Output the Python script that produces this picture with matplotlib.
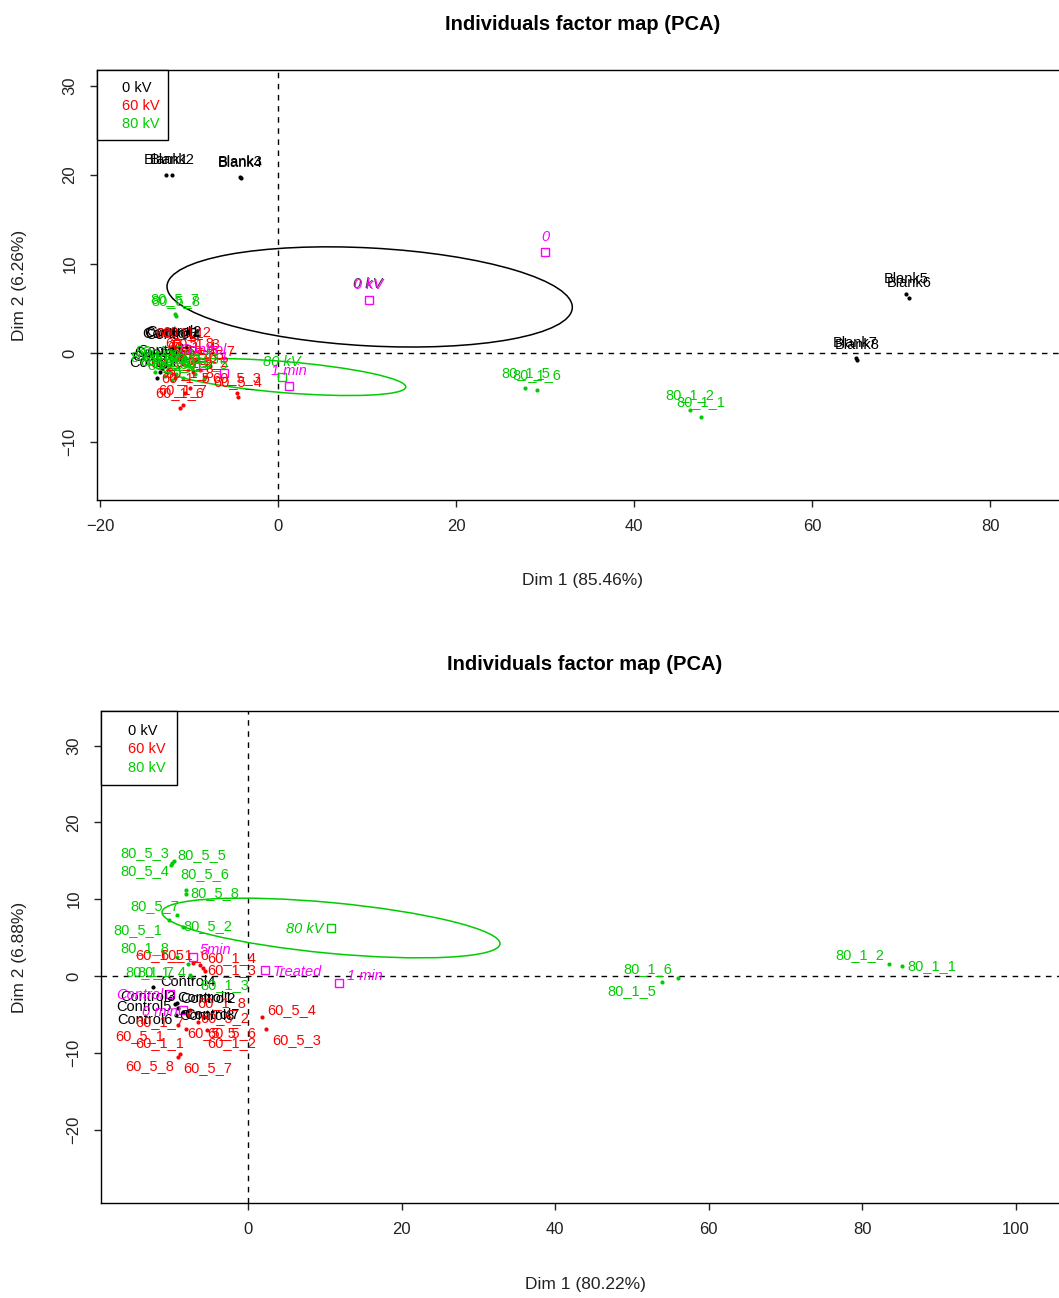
import matplotlib
matplotlib.use("Agg")
import matplotlib.pyplot as plt
from matplotlib.patches import Ellipse, Rectangle

plt.rcParams['font.family'] = ['Liberation Sans', 'DejaVu Sans']

BLACK = '#000000'
RED = '#FF0000'
GREEN = '#00CD00'
MAGENTA = '#FF00FF'

# ---------------- PCA 1 (Dim 1 85.46 %, Dim 2 6.26 %) ----------------
top_kv0_names = ['Blank1', 'Blank2', 'Blank3', 'Blank4', 'Blank5', 'Blank6', 'Blank7', 'Blank8',
                 'Control1', 'Control2', 'Control3', 'Control4', 'Control5', 'Control6', 'Control7', 'Control8']
top_kv0_dim1 = [-12.6, -11.9, -4.3, -4.2, 70.6, 70.9, 64.9, 65.1,
                -11.9, -11.7, -12.1, -11.8, -13.6, -13.3, -13.0, -12.7]
top_kv0_dim2 = [20.0, 20.0, 19.8, 19.7, 6.6, 6.2, -0.6, -0.8,
                0.6, 0.7, 0.5, 0.3, -2.8, -2.1, -1.7, -1.5]

top_kv60_names = ['60_1_1', '60_1_2', '60_1_3', '60_1_4', '60_1_5', '60_1_6', '60_1_7', '60_1_8',
                  '60_5_1', '60_5_2', '60_5_3', '60_5_4', '60_5_5', '60_5_6', '60_5_7', '60_5_8']
top_kv60_dim1 = [-11.0, -10.3, -9.2, -9.7, -10.4, -11.0, -10.7, -9.9,
                 -11.6, -8.2, -4.6, -4.5, -8.8, -9.6, -7.6, -9.9]
top_kv60_dim2 = [0.6, 0.7, -0.7, -1.0, -4.5, -6.2, -5.8, -3.9,
                 -2.8, -2.7, -4.5, -4.9, -1.9, -2.1, -1.5, -0.6]

top_kv80_names = ['80_1_1', '80_1_2', '80_1_3', '80_1_4', '80_1_5', '80_1_6', '80_1_7', '80_1_8',
                  '80_5_1', '80_5_2', '80_5_3', '80_5_4', '80_5_5', '80_5_6', '80_5_7', '80_5_8']
top_kv80_dim1 = [47.5, 46.3, -9.3, -10.1, 27.8, 29.1, -13.3, -12.4,
                 -13.8, -11.5, -10.7, -11.9, -8.3, -12.7, -11.6, -11.5]
top_kv80_dim2 = [-7.2, -6.4, -2.4, -1.9, -3.9, -4.2, -1.5, -1.8,
                 -2.1, -2.4, -2.8, -3.0, -2.9, -2.6, 4.4, 4.2]

# supplementary category centres
top_sup_names = ['0', '0 kV', '1 min', '1', 'Control']
top_sup_dim1 = [30.0, 10.2, 1.2, -6.1, -8.4]
top_sup_dim2 = [11.3, 6.0, -3.7, -2.2, -1.3]
top_group_names = ['80 kV']
top_group_dim1 = [0.4]
top_group_dim2 = [-2.7]

# confidence ellipses: centre, semi-axes, angle
top_ell_kv0 = dict(center=(10.3, 6.3), a=22.8, b=5.5, angle=-3.1)
top_ell_kv80 = dict(center=(0.6, -2.7), a=13.8, b=1.75, angle=-4.7)

# ---------------- PCA 2 (Dim 1 80.22 %, Dim 2 6.88 %) ----------------
bot_kv0_names = ['Control1', 'Control2', 'Control3', 'Control4', 'Control5', 'Control6', 'Control7', 'Control8']
bot_kv0_dim1 = [-9.24, -9.51, -10.16, -12.37, -9.11, -9.38, -8.46, -7.94]
bot_kv0_dim2 = [-3.52, -3.65, -2.86, -1.43, -4.17, -5.08, -4.69, -4.82]

bot_kv60_names = ['60_1_1', '60_1_2', '60_1_3', '60_1_4', '60_1_5', '60_1_6', '60_1_7', '60_1_8',
                  '60_5_1', '60_5_2', '60_5_3', '60_5_4', '60_5_5', '60_5_6', '60_5_7', '60_5_8']
bot_kv60_dim1 = [-8.07, -5.34, -5.60, -5.86, -7.16, -6.25, -7.81, -7.55,
                 -9.11, -6.77, 2.34, 1.82, -6.51, -5.60, -8.85, -9.11]
bot_kv60_dim2 = [-6.90, -7.03, 0.65, 1.04, 1.69, 1.43, -5.08, -4.43,
                 -6.38, -4.82, -6.90, -5.34, -5.99, -5.34, -10.16, -10.55]

bot_kv80_names = ['80_1_1', '80_1_2', '80_1_3', '80_1_4', '80_1_5', '80_1_6', '80_1_7', '80_1_8',
                  '80_5_1', '80_5_2', '80_5_3', '80_5_4', '80_5_5', '80_5_6', '80_5_7', '80_5_8']
bot_kv80_dim1 = [85.16, 83.46, -7.29, -7.55, 53.91, 56.00, -7.81, -9.24,
                 -10.29, -8.46, -9.90, -10.03, -9.64, -8.07, -9.24, -8.07]
bot_kv80_dim2 = [1.30, 1.56, -0.26, 0.13, -0.78, -0.26, 1.56, 2.47,
                 7.29, 6.38, 14.71, 14.45, 14.97, 11.20, 7.94, 10.68]

bot_sup_names = ['5min', 'Treated', '1 min', 'Control', '0 min']
bot_sup_dim1 = [-7.16, 2.21, 11.85, -10.16, -8.46]
bot_sup_dim2 = [2.47, 0.78, -0.91, -2.34, -4.43]
bot_group_names = ['80 kV']
bot_group_dim1 = [10.81]
bot_group_dim2 = [6.25]

bot_ell_kv80 = dict(center=(10.81, 6.25), a=22.1, b=3.3, angle=-5.4)

legend_labels = ['0 kV', '60 kV', '80 kV']
legend_colors = [BLACK, RED, GREEN]

# label placement (pixel offsets of label centre from its point) for the lower map
bot_label_offsets = {
    '80_5_3': (-27, 10), '80_5_4': (-26, -6), '80_5_5': (28, 6), '80_5_6': (19, 16),
    '80_5_8': (29, 1), '80_5_7': (-22, 9), '80_5_1': (-31, -10), '80_5_2': (25, 1),
    '80_1_8': (-32, 9), '80_1_7': (-38, -8), '80_1_4': (-28, 3), '80_1_3': (33, -7),
    '80_1_5': (-30, -9), '80_1_6': (-30, 9), '80_1_2': (-29, 9), '80_1_1': (30, 0),
    'Control4': (35, 5), 'Control3': (-22, 1), 'Control2': (33, 5), 'Control1': (28, 5),
    'Control5': (-34, 1), 'Control6': (-31, -5), 'Control7': (29, -3), 'Control8': (20, -3),
    '60_5_4': (30, 7), '60_5_3': (31, -11), '60_5_8': (-28, -9), '60_5_7': (28, -14),
    '60_1_4': (29, 10), '60_1_3': (27, 1), '60_1_5': (-33, 8), '60_1_6': (-15, 10),
    '60_1_8': (32, 7), '60_1_7': (-28, -7), '60_5_2': (29, -5), '60_5_5': (14, -11),
    '60_5_6': (27, -16), '60_1_1': (-26, -14), '60_1_2': (25, -13), '60_5_1': (-38, -11),
    '5min': (22, 7), 'Treated': (32, -2), '1 min': (26, 7), 'Control': (-30, -1),
    '0 min': (-23, -2), '80 kV': (-26, -1),
}

W, H = 1059, 1298
fig = plt.figure(figsize=(W / 100, H / 100), dpi=100)

LABEL_FS = 10.5


def px_rect(left, top, right, bottom):
    return [left / W, 1 - bottom / H, (right - left) / W, (bottom - top) / H]


def style_axes(ax, xlim, ylim, xticks, yticks):
    ax.set_xlim(*xlim)
    ax.set_ylim(*ylim)
    ax.set_xticks(xticks)
    ax.set_yticks(yticks)
    ax.tick_params(direction='out', length=5, width=1, labelsize=12, colors='#222222')
    ax.tick_params(axis='x', pad=9)
    ax.tick_params(axis='y', pad=9, labelrotation=90)
    for lab in ax.get_yticklabels():
        lab.set_va('center')
    for sp in ax.spines.values():
        sp.set_linewidth(1.0)
    ax.axhline(0, color=BLACK, lw=1, ls=(0, (4, 4)), zorder=1)
    ax.axvline(0, color=BLACK, lw=1, ls=(0, (4, 4)), zorder=1)


def draw_points(ax, names, xs, ys, color, offsets=None, default=(0, 15)):
    ax.scatter(xs, ys, s=9, color=color, zorder=4, linewidths=0)
    for n, x, y in zip(names, xs, ys):
        off = default if offsets is None else offsets.get(n, default)
        ax.annotate(n, (x, y), xytext=off, textcoords='offset pixels',
                    ha='center', va='center', fontsize=LABEL_FS, color=color, zorder=5)


def draw_centres(ax, names, xs, ys, color, offsets=None, default=(0, 15)):
    ax.plot(xs, ys, ls='none', marker='s', markersize=5.5, markerfacecolor='none',
            markeredgecolor=color, markeredgewidth=1, zorder=4)
    for n, x, y in zip(names, xs, ys):
        off = default if offsets is None else offsets.get(n, default)
        ax.annotate(n, (x, y), xytext=off, textcoords='offset pixels',
                    ha='center', va='center', fontsize=LABEL_FS, color=color,
                    style='italic', zorder=5)


def draw_ellipse(ax, spec, color):
    ax.add_patch(Ellipse(spec['center'], 2 * spec['a'], 2 * spec['b'], angle=spec['angle'],
                         fill=False, edgecolor=color, lw=1.1, zorder=3))


def draw_legend(left, top, right, bottom, text_x, text_ys):
    fig.add_artist(Rectangle((left / W, 1 - bottom / H), (right - left) / W, (bottom - top) / H,
                             transform=fig.transFigure, fill=True, facecolor='white',
                             edgecolor=BLACK, lw=1, zorder=10))
    for lab, col, ty in zip(legend_labels, legend_colors, text_ys):
        fig.text(text_x / W, 1 - ty / H, lab, color=col, fontsize=LABEL_FS,
                 ha='left', va='center', zorder=11)


# ---------- upper map ----------
ax1 = fig.add_axes(px_rect(97, 70, 1069, 500))
style_axes(ax1, ((97 - 278) / 8.9, (1069 - 278) / 8.9), ((353 - 500) / 8.9, (353 - 70) / 8.9),
           [-20, 0, 20, 40, 60, 80], [-10, 0, 10, 20, 30])
draw_ellipse(ax1, top_ell_kv0, BLACK)
draw_ellipse(ax1, top_ell_kv80, GREEN)
draw_points(ax1, top_kv0_names, top_kv0_dim1, top_kv0_dim2, BLACK)
draw_points(ax1, top_kv60_names, top_kv60_dim1, top_kv60_dim2, RED)
draw_points(ax1, top_kv80_names, top_kv80_dim1, top_kv80_dim2, GREEN)
draw_centres(ax1, top_group_names, top_group_dim1, top_group_dim2, GREEN)
ax1.annotate('0 kV', (top_sup_dim1[1], top_sup_dim2[1]), xytext=(-1, 16), textcoords='offset pixels',
             ha='center', va='center', fontsize=LABEL_FS, color='#553355', style='italic', zorder=5)
draw_centres(ax1, top_sup_names, top_sup_dim1, top_sup_dim2, MAGENTA)

fig.text(583 / W, 1 - 25 / H, 'Individuals factor map (PCA)', ha='center', va='center',
         fontsize=14.5, fontweight='bold')
fig.text(583 / W, 1 - 580 / H, 'Dim 1 (85.46%)', ha='center', va='center', fontsize=12.5, color='#222222')
fig.text(20 / W, 1 - 285 / H, 'Dim 2 (6.26%)', ha='center', va='center', fontsize=12.5,
         rotation=90, color='#222222')
draw_legend(97, 70, 168, 140, 122, [88, 106, 124])

# ---------- lower map ----------
ax2 = fig.add_axes(px_rect(101, 711, 1069, 1203))
style_axes(ax2, ((101 - 248) / 7.68, (1069 - 248) / 7.68), ((976 - 1203) / 7.68, (976 - 711) / 7.68),
           [0, 20, 40, 60, 80, 100], [-20, -10, 0, 10, 20, 30])
draw_ellipse(ax2, bot_ell_kv80, GREEN)
draw_points(ax2, bot_kv0_names, bot_kv0_dim1, bot_kv0_dim2, BLACK, bot_label_offsets)
draw_points(ax2, bot_kv60_names, bot_kv60_dim1, bot_kv60_dim2, RED, bot_label_offsets)
draw_points(ax2, bot_kv80_names, bot_kv80_dim1, bot_kv80_dim2, GREEN, bot_label_offsets)
draw_centres(ax2, bot_group_names, bot_group_dim1, bot_group_dim2, GREEN, bot_label_offsets)
draw_centres(ax2, bot_sup_names, bot_sup_dim1, bot_sup_dim2, MAGENTA, bot_label_offsets)

fig.text(585 / W, 1 - 665 / H, 'Individuals factor map (PCA)', ha='center', va='center',
         fontsize=14.5, fontweight='bold')
fig.text(585 / W, 1 - 1285 / H, 'Dim 1 (80.22%)', ha='center', va='center', fontsize=12.5, color='#222222')
fig.text(20 / W, 1 - 957 / H, 'Dim 2 (6.88%)', ha='center', va='center', fontsize=12.5,
         rotation=90, color='#222222')
draw_legend(101, 711, 177, 785, 128, [731, 749, 768])

fig.savefig('out.png', dpi=100)
